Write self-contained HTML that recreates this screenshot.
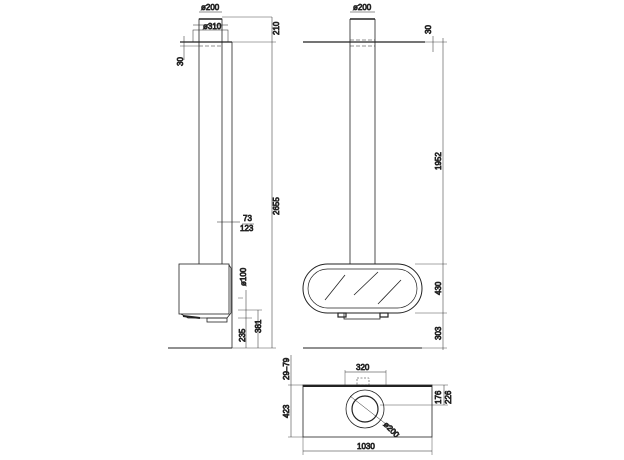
<!DOCTYPE html>
<html><head><meta charset="utf-8"><style>
html,body{margin:0;padding:0;background:#fff;width:624px;height:460px;overflow:hidden}
text{font-family:"Liberation Sans",sans-serif;font-size:8px;fill:#222}
</style></head><body>
<svg width="624" height="460" viewBox="0 0 624 460" xmlns="http://www.w3.org/2000/svg" fill="none" stroke="#222" stroke-width="0.8">
<!-- LEFT VIEW -->
<line x1="180" y1="42" x2="232" y2="42" stroke-width="1.2"/>
<rect x="199" y="19" width="23" height="23"/>
<line x1="199" y1="19" x2="222" y2="19" stroke-width="1.5"/>
<rect x="193" y="30" width="35" height="12" stroke-width="0.5"/>
<line x1="199" y1="42" x2="199" y2="264"/>
<line x1="222" y1="42" x2="222" y2="264"/>
<line x1="199" y1="46" x2="222" y2="46" stroke-dasharray="4,2" stroke-width="0.6"/>
<line x1="232" y1="42" x2="232" y2="348"/>
<line x1="168" y1="348" x2="232" y2="348" stroke-width="1.1"/>
<rect x="179" y="264" width="50" height="50"/>
<path d="M229 265 L231 268 L231 313 L227 318 L188 318 L181 314"/>
<rect x="207" y="318" width="20" height="4"/>
<line x1="183" y1="316" x2="200" y2="318" stroke-width="2"/>
<!-- left dims -->
<line x1="222" y1="17" x2="272" y2="17" stroke-width="0.4"/>
<line x1="232" y1="42" x2="276" y2="42" stroke-width="0.4"/>
<line x1="272" y1="17" x2="272" y2="348" stroke-width="0.5"/>
<line x1="232" y1="348" x2="276" y2="348" stroke-width="0.4"/>
<line x1="199" y1="12" x2="222" y2="12" stroke-width="0.5"/>
<text x="201" y="10">ø200</text>
<line x1="193" y1="25" x2="228" y2="25" stroke-width="0.5"/>
<text x="203" y="29">ø310</text>
<line x1="184" y1="36" x2="184" y2="60" stroke-width="0.5"/>
<line x1="180" y1="46" x2="199" y2="46" stroke-width="0.4"/>
<text transform="translate(183,66) rotate(-90)">30</text>
<text transform="translate(279,35) rotate(-90)">210</text>
<text transform="translate(279,215) rotate(-90)">2655</text>
<line x1="217" y1="222" x2="240" y2="222" stroke-width="0.5"/>
<text x="243" y="221">73</text>
<line x1="242" y1="224" x2="254" y2="224" stroke-width="0.5"/>
<text x="240" y="231">123</text>
<line x1="238" y1="298" x2="243" y2="298" stroke-width="0.4"/>
<line x1="238" y1="310" x2="262" y2="310" stroke-width="0.4"/>
<line x1="238" y1="318" x2="252" y2="318" stroke-width="0.4"/>
<line x1="246" y1="290" x2="246" y2="348" stroke-width="0.5"/>
<line x1="258" y1="310" x2="258" y2="348" stroke-width="0.5"/>
<text transform="translate(246,286) rotate(-90)">ø100</text>
<text transform="translate(245,342) rotate(-90)">235</text>
<text transform="translate(261,333) rotate(-90)">381</text>
<!-- RIGHT VIEW -->
<line x1="303" y1="42" x2="425" y2="42" stroke-width="1.2"/>
<line x1="350" y1="19" x2="350" y2="264"/>
<line x1="375" y1="19" x2="375" y2="264"/>
<line x1="350" y1="19" x2="375" y2="19" stroke-width="1.5"/>
<line x1="350" y1="40" x2="375" y2="40" stroke-dasharray="4,2" stroke-width="0.6"/>
<line x1="350" y1="46" x2="375" y2="46" stroke-dasharray="4,2" stroke-width="0.6"/>
<line x1="350" y1="12" x2="375" y2="12" stroke-width="0.5"/>
<text x="353" y="10">ø200</text>
<rect x="303" y="264" width="119" height="49" rx="24.5" stroke-width="1"/>
<rect x="308" y="269" width="109" height="39" rx="19.5" stroke-width="0.7"/>
<line x1="325" y1="300" x2="345" y2="275"/><line x1="354" y1="295" x2="378" y2="272"/><line x1="378" y1="304" x2="401" y2="280"/>
<rect x="344" y="313" width="36" height="6"/>
<rect x="338" y="313" width="8" height="4" stroke-width="1.2"/>
<rect x="380" y="313" width="8" height="4" stroke-width="1.2"/>
<line x1="303" y1="348" x2="422" y2="348" stroke-width="1.1"/>
<line x1="375" y1="42" x2="447" y2="42" stroke-width="0.4"/>
<line x1="433" y1="36" x2="433" y2="52" stroke-width="0.5"/>
<text transform="translate(431,34) rotate(-90)">30</text>
<line x1="443" y1="38" x2="443" y2="350" stroke-width="0.5"/>
<line x1="415" y1="264" x2="447" y2="264" stroke-width="0.4"/>
<line x1="415" y1="313" x2="447" y2="313" stroke-width="0.4"/>
<line x1="422" y1="348" x2="447" y2="348" stroke-width="0.4"/>
<text transform="translate(441,170) rotate(-90)">1952</text>
<text transform="translate(441,295) rotate(-90)">430</text>
<text transform="translate(441,340) rotate(-90)">303</text>
<!-- PLAN VIEW -->
<rect x="303" y="385" width="129" height="52"/>
<line x1="303" y1="386" x2="432" y2="386" stroke-width="2"/>
<circle cx="365" cy="409" r="19"/>
<circle cx="365" cy="409" r="13" stroke-width="1.2"/>
<line x1="350" y1="396" x2="400" y2="435" stroke-width="0.5"/>
<text transform="translate(383,425) rotate(45)">ø200</text>
<rect x="357" y="378" width="12" height="7" stroke-dasharray="2,1.5" stroke-width="0.5"/>
<line x1="345" y1="370" x2="345" y2="386" stroke-width="0.4"/>
<line x1="386" y1="370" x2="386" y2="386" stroke-width="0.4"/>
<line x1="345" y1="372" x2="386" y2="372" stroke-width="0.5"/>
<text x="356" y="370">320</text>
<line x1="303" y1="437" x2="303" y2="455" stroke-width="0.4"/>
<line x1="432" y1="437" x2="432" y2="455" stroke-width="0.4"/>
<line x1="303" y1="451" x2="432" y2="451" stroke-width="0.5"/>
<text x="357" y="449">1030</text>
<line x1="288" y1="385" x2="303" y2="385" stroke-width="0.4"/>
<line x1="288" y1="437" x2="303" y2="437" stroke-width="0.4"/>
<line x1="291" y1="355" x2="291" y2="437" stroke-width="0.5"/>
<text transform="translate(289,380) rotate(-90)">29–79</text>
<text transform="translate(289,418) rotate(-90)">423</text>
<line x1="380" y1="405" x2="448" y2="405" stroke-width="0.4"/>
<line x1="432" y1="385" x2="448" y2="385" stroke-width="0.4"/>
<line x1="444" y1="385" x2="444" y2="405" stroke-width="0.5"/>
<text transform="translate(441,404) rotate(-90)">176</text>
<text transform="translate(451,404) rotate(-90)">226</text>
</svg>
</body></html>
